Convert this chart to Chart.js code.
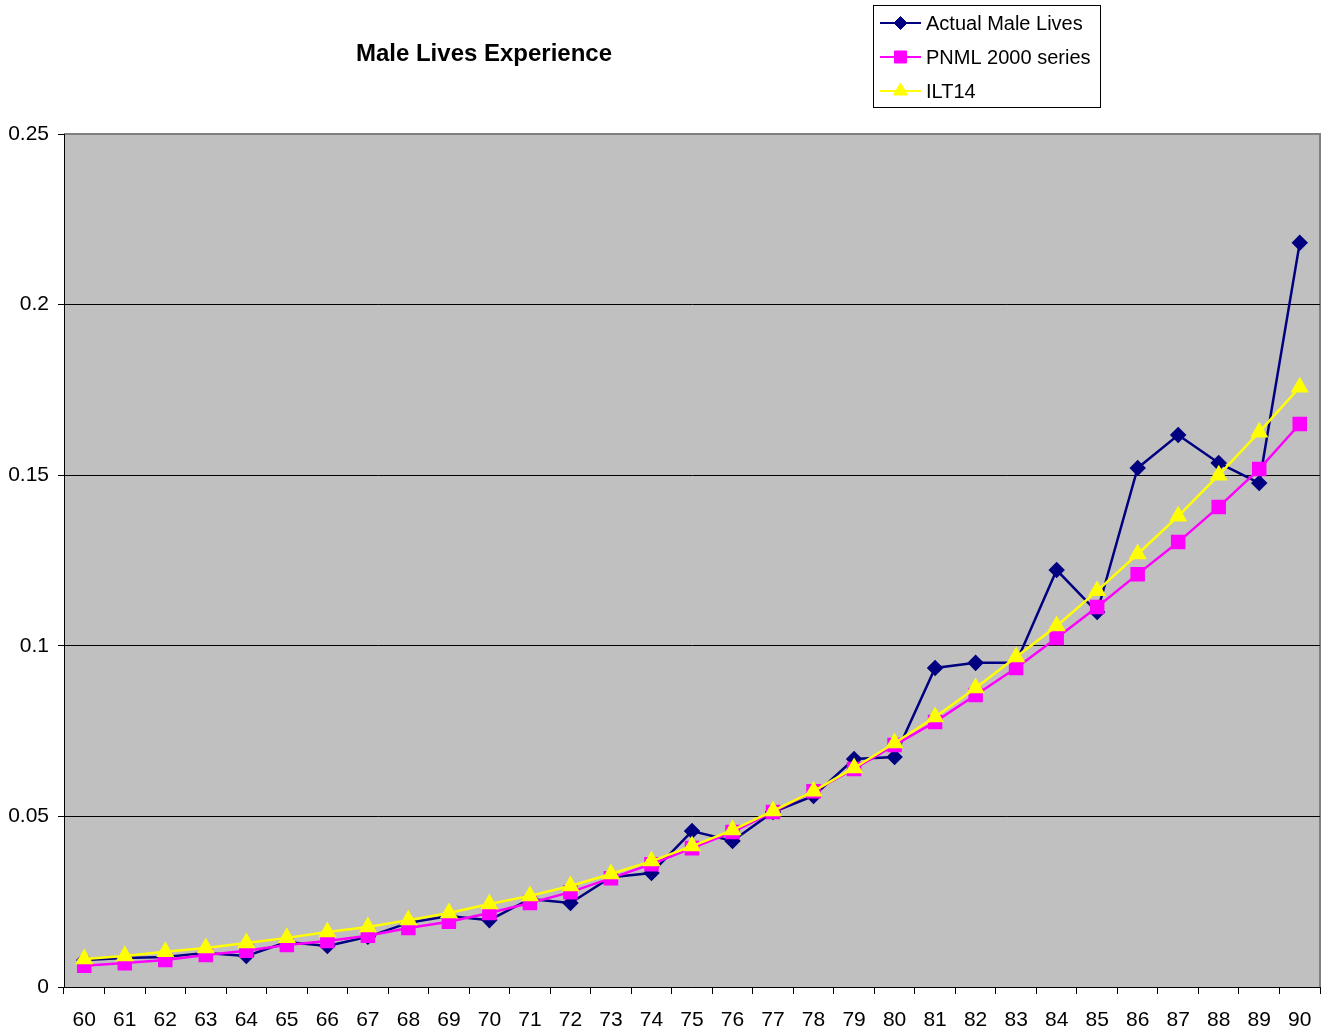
<!DOCTYPE html>
<html>
<head>
<meta charset="utf-8">
<title>Male Lives Experience</title>
<script src="https://cdn.jsdelivr.net/npm/chart.js@4/dist/chart.umd.min.js"></script>
<style>
  html, body { margin: 0; padding: 0; background: #fff; }
  #wrap { width: 1325px; height: 1033px; }
</style>
</head>
<body>
<div id="wrap"><canvas id="myChart" width="1325" height="1033"></canvas></div>
<script>
const ages = ['60', '61', '62', '63', '64', '65', '66', '67', '68', '69', '70',
    '71', '72', '73', '74', '75', '76', '77', '78', '79', '80',
    '81', '82', '83', '84', '85', '86', '87', '88', '89', '90'];

const actualMale = [0.0079, 0.0085, 0.0088, 0.0100, 0.0091, 0.0132, 0.0120, 0.0147, 0.0188, 0.0208, 0.0196,
    0.0258, 0.0246, 0.0322, 0.0334, 0.0457, 0.0428, 0.0513, 0.0560, 0.0668, 0.0674,
    0.0935, 0.0950, 0.0950, 0.1222, 0.1099, 0.1521, 0.1618, 0.1536, 0.1477, 0.2181];

const pnml2000 = [0.0062, 0.0070, 0.0079, 0.0094, 0.0106, 0.0123, 0.0135, 0.0150, 0.0173, 0.0191, 0.0217,
    0.0246, 0.0278, 0.0319, 0.0360, 0.0407, 0.0454, 0.0513, 0.0574, 0.0639, 0.0709,
    0.0777, 0.0856, 0.0935, 0.1023, 0.1114, 0.1210, 0.1304, 0.1407, 0.1518, 0.1650];

const ilt14 = [0.0082, 0.0091, 0.0103, 0.0114, 0.0129, 0.0144, 0.0161, 0.0176, 0.0196, 0.0217, 0.0243,
    0.0267, 0.0296, 0.0331, 0.0369, 0.0413, 0.0460, 0.0516, 0.0574, 0.0642, 0.0715,
    0.0791, 0.0876, 0.0967, 0.1058, 0.1161, 0.1269, 0.1380, 0.1500, 0.1626, 0.1758];

Chart.defaults.font.family = "'Liberation Sans', Arial, sans-serif";
Chart.defaults.color = '#000';

// grey plot area with grey frame on top/right (Excel style)
const plotArea = {
    id: 'plotArea',
    beforeDraw(chart) {
        const { ctx, chartArea: a } = chart;
        ctx.save();
        ctx.fillStyle = '#c0c0c0';
        ctx.fillRect(a.left, a.top, a.right - a.left, a.bottom - a.top);
        ctx.strokeStyle = '#808080';
        ctx.lineWidth = 2;
        ctx.beginPath();
        ctx.moveTo(a.left, a.top);
        ctx.lineTo(a.right, a.top);
        ctx.lineTo(a.right, a.bottom);
        ctx.stroke();
        ctx.restore();
    }
};

const titleAndLegend = {
    id: 'titleAndLegend',
    afterDraw(chart) {
        const ctx = chart.ctx;
        ctx.save();
        ctx.font = "bold 24px 'Liberation Sans', Arial, sans-serif";
        ctx.fillStyle = '#000';
        ctx.textAlign = 'center';
        ctx.textBaseline = 'middle';
        ctx.fillText('Male Lives Experience', 484, 54);

        // legend box
        ctx.fillStyle = '#fff';
        ctx.fillRect(873.5, 5.5, 227, 102);
        ctx.strokeStyle = '#000';
        ctx.lineWidth = 1;
        ctx.strokeRect(873.5, 5.5, 227, 102);
        ctx.font = "20px 'Liberation Sans', Arial, sans-serif";
        ctx.textAlign = 'left';
        [0, 1, 2].forEach((i, row) => {
            const ds = chart.data.datasets[i];
            const y = 23 + row * 34;
            ctx.strokeStyle = ds.borderColor;
            ctx.lineWidth = 2;
            ctx.beginPath();
            ctx.moveTo(880, y);
            ctx.lineTo(921, y);
            ctx.stroke();
            ctx.fillStyle = ds.pointBackgroundColor;
            ctx.strokeStyle = ds.pointBorderColor;
            ctx.lineWidth = 1;
            Chart.helpers.drawPoint(ctx, {
                pointStyle: ds.pointStyle, radius: ds.pointRadius, rotation: 0, borderWidth: 1
            }, 900.5, y);
            ctx.fillStyle = '#000';
            ctx.fillText(ds.label, 926, y + 1);
        });
        ctx.restore();
    }
};

const data = {
    labels: ages,
    datasets: [{
        label: 'Actual Male Lives',
        data: actualMale,
        borderColor: '#000080',
        backgroundColor: '#000080',
        pointBackgroundColor: '#000080',
        pointBorderColor: '#000080',
        pointStyle: 'rectRot',
        pointRadius: 6.5,
        borderWidth: 2.5,
        order: 2
    }, {
        label: 'PNML 2000 series',
        data: pnml2000,
        borderColor: '#ff00ff',
        backgroundColor: '#ff00ff',
        pointBackgroundColor: '#ff00ff',
        pointBorderColor: '#ff00ff',
        pointStyle: 'rect',
        pointRadius: 8.5,
        borderWidth: 2.5,
        order: 1
    }, {
        label: 'ILT14',
        data: ilt14,
        borderColor: '#ffff00',
        backgroundColor: '#ffff00',
        pointBackgroundColor: '#ffff00',
        pointBorderColor: '#ffff00',
        pointStyle: 'triangle',
        pointRadius: 8,
        borderWidth: 2.5,
        order: 0
    }]
};

const config = {
    type: 'line',
    data,
    plugins: [plotArea, titleAndLegend],
    options: {
        responsive: false,
        animation: false,
        layout: {
            autoPadding: false,
            padding: { top: 134, right: 5, left: 0, bottom: 0 }
        },
        elements: {
            line: { tension: 0 },
            point: { borderWidth: 1, hoverRadius: 7 }
        },
        scales: {
            x: {
                offset: true,
                grid: {
                    display: true,
                    drawOnChartArea: false,
                    offset: true,
                    color: '#000',
                    tickLength: 7
                },
                border: { color: '#000', width: 1 },
                ticks: {
                    font: { size: 21 },
                    padding: 14,
                    maxRotation: 0,
                    autoSkip: false
                },
                afterFit(scale) {
                    scale.height = 46;
                    scale.paddingRight = 0;
                    scale.paddingLeft = 0;
                }
            },
            y: {
                min: 0,
                max: 0.25,
                grid: {
                    color: (c) => (c.tick && c.tick.value >= 0.249 ? 'rgba(0,0,0,0)' : '#000'),
                    tickColor: '#000',
                    tickLength: 6,
                    lineWidth: 1
                },
                border: { color: '#000', width: 1 },
                ticks: {
                    stepSize: 0.05,
                    font: { size: 21 },
                    padding: 9,
                    callback: (v) => String(+Number(v).toFixed(2))
                },
                afterFit(scale) { scale.width = 64; }
            }
        },
        plugins: {
            legend: { display: false },
            title: { display: false },
            tooltip: { enabled: false }
        }
    }
};

var myChart = new Chart(
    document.getElementById('myChart'),
    config
);
</script>
</body>
</html>
